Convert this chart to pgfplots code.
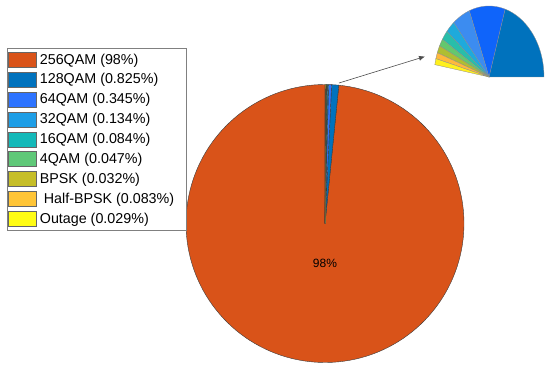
\documentclass[border=0pt]{standalone}
\usepackage{fontspec}
\setmainfont{Liberation Sans}
\usepackage{pgfplots}
\usepackage{pgfplotstable}
\pgfplotsset{compat=1.18}
\usetikzlibrary{arrows.meta}

% slice colours, main pie
\definecolor{c1}{RGB}{217,83,25}
\definecolor{c2}{RGB}{0,114,189}
\definecolor{c3}{RGB}{45,115,255}
\definecolor{c4}{RGB}{30,158,230}
\definecolor{c5}{RGB}{20,185,185}
\definecolor{c6}{RGB}{95,200,120}
\definecolor{c7}{RGB}{198,190,40}
\definecolor{c8}{RGB}{255,197,55}
\definecolor{c9}{RGB}{255,252,20}
% inset colours
\definecolor{i1}{RGB}{0,114,189}
\definecolor{i2}{RGB}{15,100,250}
\definecolor{i3}{RGB}{60,140,240}
\definecolor{i4}{RGB}{30,170,220}
\definecolor{i5}{RGB}{40,190,170}
\definecolor{i6}{RGB}{100,200,110}
\definecolor{i7}{RGB}{175,190,50}
\definecolor{i8}{RGB}{255,185,60}
\definecolor{i9}{RGB}{255,240,30}
\definecolor{edge}{RGB}{60,60,60}

% share of each mode (%)
\pgfplotstableread{
pct   col
98    c1
0.825 c2
0.345 c3
0.134 c4
0.084 c5
0.047 c6
0.032 c7
0.083 c8
0.029 c9
}\piedata

% zoomed inset: span of each wedge in degrees
\pgfplotstableread{
span col
73   i1
38   i2
19   i3
10   i4
8    i5
6    i6
6    i7
5    i8
5    i9
}\insetdata

\def\total{0}
\pgfplotsforeachungrouped \i in {0,...,8}{%
  \pgfplotstablegetelem{\i}{pct}\of\piedata
  \pgfmathsetmacro\total{\total+\pgfplotsretval}}
\pgfmathsetmacro\degper{360/\total}

\begin{document}
\begin{tikzpicture}
\begin{axis}[
    width=550pt, height=373pt, scale only axis,
    xmin=0, xmax=550, ymin=0, ymax=373,
    hide axis, clip=false,
    legend style={at={(0.0127,0.8713)}, anchor=north west,
      draw=black!50, fill=white, inner xsep=1.3pt, inner ysep=1.5pt,
      row sep=0pt, column sep=0pt,
      nodes={inner xsep=3pt, inner ysep=0pt, minimum height=19.9pt},
      font=\fontsize{14.3}{16}\selectfont},
    legend cell align=left,
    legend image code/.code={\draw[#1, draw=black!60, line width=0.4pt] (0pt,-7.5pt) rectangle (28pt,7.5pt);},
]
% keep the whole frame in the bounding box
\path (axis cs:0,0) rectangle (axis cs:550,373);

\xdef\cur{90}
\pgfplotsinvokeforeach{0,...,8}{
  \pgfplotstablegetelem{#1}{pct}\of\piedata
  \pgfmathsetmacro\nxt{\cur+\pgfplotsretval*\degper}
  \pgfplotstablegetelem{#1}{col}\of\piedata
  \edef\temp{\noexpand\addplot[fill=\pgfplotsretval, draw=edge, line width=0.4pt,
    domain=\cur:\nxt, samples=150]
    ({325+139*cos(x)},{149.5+139*sin(x)}) -- (axis cs:325,149.5) -- cycle;}
  \temp
  \xdef\cur{\nxt}
}
\legend{256QAM (98\%), 128QAM (0.825\%), 64QAM (0.345\%), 32QAM (0.134\%),
  16QAM (0.084\%), 4QAM (0.047\%), BPSK (0.032\%), \ Half-BPSK (0.083\%)\rule{8pt}{0pt},
  Outage (0.029\%)}

\xdef\cur{0}
\pgfplotsinvokeforeach{0,...,8}{
  \pgfplotstablegetelem{#1}{span}\of\insetdata
  \pgfmathsetmacro\nxt{\cur+\pgfplotsretval}
  \pgfplotstablegetelem{#1}{col}\of\insetdata
  \edef\temp{\noexpand\addplot[forget plot, fill=\pgfplotsretval, draw=black!45, line width=0.3pt,
    domain=\cur:\nxt, samples=60]
    ({489+55*cos(x)},{296+71*sin(x)}) -- (axis cs:489,296) -- cycle;}
  \temp
  \xdef\cur{\nxt}
}

\draw[black!70, line width=0.6pt, -{Latex[length=6pt,width=5pt]}] (axis cs:339,290) -- (axis cs:425,316.5);
\node[font=\fontsize{12}{14}\selectfont] at (axis cs:325,110) {98\%};
\end{axis}
\end{tikzpicture}
\end{document}
